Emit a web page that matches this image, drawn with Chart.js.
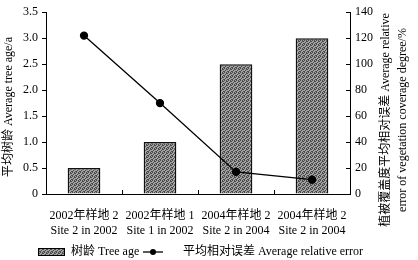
<!DOCTYPE html>
<html>
<head>
<meta charset="utf-8">
<script src="https://cdn.jsdelivr.net/npm/chart.js@4/dist/chart.umd.min.js"></script>
<style>
  html, body { margin: 0; padding: 0; background: #fff; }
  #wrap { width: 418px; height: 260px; }
</style>
</head>
<body>
<div id="wrap"><canvas id="chart" width="418" height="260"></canvas></div>
<script>
const categories = [
  ["2002年样地 2", "Site 2 in 2002"],
  ["2002年样地 1", "Site 1 in 2002"],
  ["2004年样地 2", "Site 2 in 2004"],
  ["2004年样地 2", "Site 2 in 2004"]
];
const treeAge = [0.5, 1.0, 2.5, 3.0];
const relativeError = [122, 70, 17, 11];

const leftTitle = "平均树龄 Average tree age/a";
const rightTitle = ["植被覆盖度平均相对误差 Average relative", "error of vegetation coverage degree/%"];
const barLegend = "树龄 Tree age";
const lineLegend = "平均相对误差 Average relative error";

const FONT = "'Liberation Serif', 'Noto Sans CJK SC', serif";

// stipple fill like the printed bars
function makePattern(ctx) {
  const p = document.createElement("canvas");
  p.width = 4; p.height = 4;
  const g = p.getContext("2d");
  g.fillStyle = "#a2a2a2";
  g.fillRect(0, 0, 4, 4);
  g.fillStyle = "#4a4a4a";
  [[0, 0], [2, 1], [1, 2], [3, 3], [3, 1], [0, 3], [2, 0]].forEach(([x, y]) => g.fillRect(x, y, 1, 1));
  return ctx.createPattern(p, "repeat");
}

const canvas = document.getElementById("chart");
const ctx = canvas.getContext("2d");
const barFill = makePattern(ctx);

// titles, inward ticks and the legend
const extras = {
  id: "extras",
  afterDraw(chart) {
    const c = chart.ctx;
    const area = chart.chartArea;
    const x = chart.scales.x;
    const y1 = chart.scales.y1;
    c.save();
    c.strokeStyle = "#000";
    c.lineWidth = 1;
    // x ticks between categories, pointing up
    for (let i = 1; i < categories.length; i++) {
      const px = Math.round((x.getPixelForTick(i - 1) + x.getPixelForTick(i)) / 2) + 0.5;
      c.beginPath(); c.moveTo(px, area.bottom); c.lineTo(px, area.bottom - 4); c.stroke();
    }
    // right axis ticks, pointing in
    y1.ticks.forEach((t, i) => {
      const py = Math.round(y1.getPixelForTick(i)) + 0.5;
      c.beginPath(); c.moveTo(area.right, py); c.lineTo(area.right - 4, py); c.stroke();
    });

    c.fillStyle = "#000";
    c.textAlign = "center";
    c.textBaseline = "middle";
    c.font = "12px " + FONT;
    // left title
    c.save();
    c.translate(9, 107);
    c.rotate(-Math.PI / 2);
    c.fillText(leftTitle, 0, 0);
    c.restore();
    // right title, two lines
    c.save();
    c.translate(386, 120);
    c.rotate(-Math.PI / 2);
    c.fillText(rightTitle[0], 0, 0);
    c.fillText(rightTitle[1], 0, 17);
    c.restore();

    // legend
    const ly = 252;
    c.fillStyle = barFill;
    c.fillRect(38, ly - 4, 27, 8);
    c.strokeRect(38.5, ly - 3.5, 26, 7);
    c.fillStyle = "#000";
    c.textAlign = "left";
    c.fillText(barLegend, 71, ly);
    c.lineWidth = 1.3;
    c.beginPath(); c.moveTo(143, ly); c.lineTo(163, ly); c.stroke();
    c.beginPath(); c.arc(153, ly, 3, 0, Math.PI * 2); c.fill();
    c.fillText(lineLegend, 183, ly);
    c.restore();
  }
};

new Chart(canvas, {
  data: {
    labels: categories,
    datasets: [
      {
        type: "line",
        label: lineLegend,
        data: relativeError,
        yAxisID: "y1",
        borderColor: "#000",
        borderWidth: 1.3,
        pointRadius: 3.5,
        pointBackgroundColor: "#000",
        pointBorderColor: "#000",
        order: 0
      },
      {
        type: "bar",
        label: barLegend,
        data: treeAge,
        yAxisID: "y",
        backgroundColor: barFill,
        borderColor: "#111",
        borderWidth: 1.5,
        categoryPercentage: 1,
        barPercentage: 0.43,
        order: 1
      }
    ]
  },
  options: {
    responsive: false,
    animation: false,
    devicePixelRatio: 1,
    layout: { padding: { top: 10, left: 0, right: 0, bottom: 0 } },
    plugins: { legend: { display: false }, tooltip: { enabled: false } },
    scales: {
      x: {
        offset: true,
        grid: { display: false },
        border: { display: true, color: "#000", width: 1 },
        ticks: {
          color: "#000", font: { family: FONT, size: 12 },
          maxRotation: 0, autoSkip: false, padding: 7
        },
        afterFit(s) { s.height = 66; }
      },
      y: {
        position: "left",
        min: 0, max: 3.5,
        grid: { drawOnChartArea: false, tickLength: 4, color: "#000" },
        border: { display: true, color: "#000", width: 1 },
        ticks: {
          stepSize: 0.5, color: "#000", padding: 4,
          font: { family: FONT, size: 12 },
          callback: v => v === 0 ? "0" : v.toFixed(1)
        },
        afterFit(s) { s.width = 46; }
      },
      y1: {
        position: "right",
        min: 0, max: 140,
        grid: { display: true, drawOnChartArea: false, drawTicks: false },
        border: { display: true, color: "#000", width: 1 },
        ticks: {
          stepSize: 20, color: "#000", padding: 5,
          font: { family: FONT, size: 12 }
        },
        afterFit(s) { s.width = 68; }
      }
    }
  },
  plugins: [extras]
});
</script>
</body>
</html>
